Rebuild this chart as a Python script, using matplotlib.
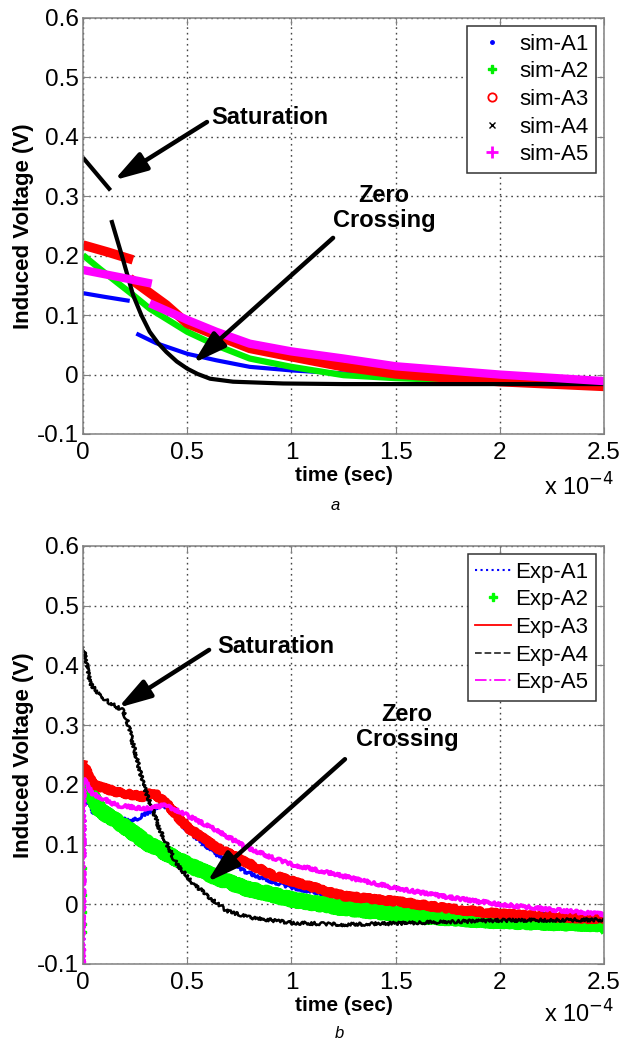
import matplotlib
matplotlib.use("Agg")
import matplotlib.pyplot as plt
from matplotlib.lines import Line2D

plt.rcParams['font.family'] = ['Liberation Sans', 'DejaVu Sans']

# time values are in units of 1e-4 s
xticks = [0, 0.5, 1, 1.5, 2, 2.5]
xtick_labels = ['0', '0.5', '1', '1.5', '2', '2.5']
yticks = [-0.1, 0, 0.1, 0.2, 0.3, 0.4, 0.5, 0.6]
ytick_labels = ['-0.1', '0', '0.1', '0.2', '0.3', '0.4', '0.5', '0.6']

# ---- (a) simulation ----
sim_a1_t1 = [0, 0.1, 0.224]
sim_a1_v1 = [0.137, 0.131, 0.124]
sim_a1_t2 = [0.256, 0.35, 0.5, 0.64, 0.8, 1.0, 1.25, 1.5, 2.0, 2.5]
sim_a1_v2 = [0.069, 0.053, 0.035, 0.024, 0.013, 0.007, 0.002, -0.001, -0.005, -0.009]

sim_a2_t = [0, 0.08, 0.16, 0.24, 0.32, 0.5, 0.64, 0.8, 1.0, 1.25, 1.5, 2.0, 2.5]
sim_a2_v = [0.201, 0.178, 0.156, 0.134, 0.111, 0.072, 0.049, 0.027, 0.013, -0.001, -0.006, -0.012, -0.016]

sim_a3_t1 = [0, 0.12, 0.24]
sim_a3_v1 = [0.218, 0.206, 0.193]
sim_a3_t2 = [0.224, 0.4, 0.5, 0.64, 0.8, 1.0, 1.25, 1.5, 2.0, 2.5]
sim_a3_v2 = [0.162, 0.117, 0.086, 0.066, 0.044, 0.030, 0.013, 0.001, -0.012, -0.020]

sim_a4_t1 = [0, 0.132]
sim_a4_v1 = [0.365, 0.31]
sim_a4_t2 = [0.136, 0.19, 0.24, 0.28, 0.32, 0.36, 0.4, 0.45, 0.5, 0.55, 0.61, 0.72, 0.96, 1.25, 1.5, 2.0, 2.5]
sim_a4_v2 = [0.26, 0.196, 0.134, 0.1, 0.072, 0.053, 0.038, 0.022, 0.010, 0.001, -0.007, -0.012, -0.015, -0.016, -0.016, -0.016, -0.016]

sim_a5_t1 = [0, 0.16, 0.33]
sim_a5_v1 = [0.176, 0.165, 0.153]
sim_a5_t2 = [0.32, 0.5, 0.64, 0.8, 1.0, 1.25, 1.5, 2.0, 2.5]
sim_a5_v2 = [0.12, 0.092, 0.072, 0.052, 0.039, 0.027, 0.014, 0.0, -0.011]

# ---- (b) experiment ----
exp_a1_t = [0, 0.003, 0.048, 0.096, 0.24, 0.32, 0.384, 0.448, 0.5, 0.64, 0.77, 0.9, 1.0, 1.25, 1.5, 2.0, 2.5]
exp_a1_v = [-0.1, 0.18, 0.155, 0.146, 0.14, 0.155, 0.168, 0.146, 0.124, 0.084, 0.056, 0.039, 0.028, 0.011, -0.004, -0.015, -0.02]

exp_a2_t = [0.003, 0.08, 0.16, 0.32, 0.5, 0.64, 0.77, 0.9, 1.0, 1.25, 1.5, 1.75, 2.0, 2.25, 2.5]
exp_a2_v = [0.205, 0.157, 0.14, 0.10, 0.067, 0.045, 0.028, 0.017, 0.008, -0.006, -0.016, -0.023, -0.028, -0.031, -0.033]
exp_a2_start_v = [0.06, 0.016, -0.013, -0.033, -0.047]

exp_a3_t = [0, 0.048, 0.16, 0.29, 0.336, 0.416, 0.5, 0.64, 0.77, 0.9, 1.0, 1.25, 1.5, 1.75, 2.0, 2.25, 2.5]
exp_a3_v = [0.235, 0.20, 0.188, 0.18, 0.188, 0.163, 0.129, 0.095, 0.073, 0.05, 0.039, 0.014, 0.005, -0.007, -0.016, -0.021, -0.025]

exp_a4_t = [0, 0.01, 0.034, 0.08, 0.13, 0.19, 0.21, 0.29, 0.37, 0.45, 0.53, 0.61, 0.69, 0.8, 1.0, 1.25, 1.5, 2.0, 2.5]
exp_a4_v = [0.43, 0.415, 0.37, 0.35, 0.337, 0.325, 0.31, 0.2, 0.124, 0.067, 0.034, 0.011, -0.011, -0.022, -0.031, -0.034, -0.032, -0.027, -0.026]

exp_a5_t = [0, 0.003, 0.048, 0.16, 0.29, 0.4, 0.5, 0.64, 0.77, 0.9, 1.0, 1.25, 1.5, 1.75, 2.0, 2.25, 2.5]
exp_a5_v = [-0.1, 0.21, 0.185, 0.166, 0.16, 0.166, 0.149, 0.124, 0.098, 0.079, 0.067, 0.047, 0.027, 0.012, 0.0, -0.009, -0.017]

sim_labels = ['sim-A1', 'sim-A2', 'sim-A3', 'sim-A4', 'sim-A5']
exp_labels = ['Exp-A1', 'Exp-A2', 'Exp-A3', 'Exp-A4', 'Exp-A5']
colors = ['#0000ff', '#00ee00', '#ff0000', '#000000', '#ff00ff']


def style_axes(ax):
    ax.set_xlim(0, 2.5)
    ax.set_ylim(-0.1, 0.6)
    ax.set_xticks(xticks)
    ax.set_xticklabels(xtick_labels)
    ax.set_yticks(yticks)
    ax.set_yticklabels(ytick_labels)
    ax.tick_params(direction='in', length=5, color='#808080', labelsize=17.5,
                   top=True, right=True)
    ax.tick_params(axis='x', pad=6)
    ax.tick_params(axis='y', pad=3)
    ax.grid(True, color='#444444', linestyle=(0, (1.2, 2.8)), linewidth=1.0)
    ax.set_axisbelow(True)
    for s in ax.spines.values():
        s.set_color('#808080')
        s.set_linewidth(1.1)
    ax.set_xlabel('time (sec)', fontsize=15, fontweight='bold', labelpad=1)
    ax.set_ylabel('Induced Voltage (V)', fontsize=16, fontweight='bold', labelpad=2)


def arrow(ax, tip, tail):
    ax.annotate('', xy=tip, xytext=tail,
                arrowprops=dict(arrowstyle='-|>,head_length=1.0,head_width=0.3',
                                mutation_scale=20, lw=3.2, color='black',
                                shrinkA=0, shrinkB=0))


def sim_line(ax, t, v, c, w):
    ax.plot(t, v, color=c, lw=w, solid_capstyle='butt', solid_joinstyle='round')


fig = plt.figure(figsize=(6.32, 10.43), dpi=100)
ax1 = fig.add_axes([83 / 632, 609 / 1043, 521 / 632, 416 / 1043])
ax2 = fig.add_axes([83 / 632, 79 / 1043, 521 / 632, 418 / 1043])

# (a)
sim_line(ax1, sim_a1_t1, sim_a1_v1, colors[0], 3.0)
sim_line(ax1, sim_a1_t2, sim_a1_v2, colors[0], 3.0)
sim_line(ax1, sim_a2_t, sim_a2_v, colors[1], 4.5)
sim_line(ax1, sim_a3_t1, sim_a3_v1, colors[2], 6.8)
sim_line(ax1, sim_a3_t2, sim_a3_v2, colors[2], 6.8)
sim_line(ax1, sim_a4_t1, sim_a4_v1, colors[3], 3.0)
sim_line(ax1, sim_a4_t2, sim_a4_v2, colors[3], 3.0)
sim_line(ax1, sim_a5_t1, sim_a5_v1, colors[4], 6.0)
sim_line(ax1, sim_a5_t2, sim_a5_v2, colors[4], 6.0)
style_axes(ax1)

sim_handles = [
    Line2D([], [], color=colors[0], marker='.', ls='none', ms=5),
    Line2D([], [], color=colors[1], marker='P', ls='none', ms=6),
    Line2D([], [], color=colors[2], marker='o', ls='none', ms=6, mfc='none', mew=1.3),
    Line2D([], [], color=colors[3], marker='x', ls='none', ms=4),
    Line2D([], [], color=colors[4], marker='+', ls='none', ms=8, mew=2),
]
leg1 = ax1.legend(sim_handles, sim_labels, loc='upper right', fontsize=16,
                  handlelength=1.6, handletextpad=0.4, labelspacing=0.3,
                  borderpad=0.35, borderaxespad=0.35, fancybox=False,
                  edgecolor='#333333', framealpha=1)
leg1.get_frame().set_linewidth(1.1)

arrow(ax1, (0.149, 0.327), (0.595, 0.425))
ax1.text(0.614, 0.432, 'Saturation', fontsize=17, fontweight='bold', ha='left', va='center')
arrow(ax1, (0.528, 0.019), (1.2, 0.23))
ax1.text(1.445, 0.28, 'Zero\nCrossing', fontsize=17, fontweight='bold', ha='center',
         va='center', linespacing=1.1)

# (b)
l1, = ax2.plot(exp_a1_t, exp_a1_v, color=colors[0], lw=2.2)
l2, = ax2.plot(exp_a2_t, exp_a2_v, color='#00ff00', lw=10)
ax2.plot([0] * len(exp_a2_start_v), exp_a2_start_v, color='#00ff00', marker='P',
         ls='none', ms=5)
l3, = ax2.plot(exp_a3_t, exp_a3_v, color=colors[2], lw=6.0)
l4, = ax2.plot(exp_a4_t, exp_a4_v, color=colors[3], lw=1.8)
l5, = ax2.plot(exp_a5_t, exp_a5_v, color=colors[4], lw=2.6)
for ln in (l1, l2, l3, l4, l5):
    ln.set_sketch_params(1.6, 3, 4)
style_axes(ax2)

exp_handles = [
    Line2D([], [], color=colors[0], ls=':', lw=1.5),
    Line2D([], [], color='#00ff00', marker='P', ls='none', ms=6),
    Line2D([], [], color=colors[2], ls='-', lw=1.3),
    Line2D([], [], color='#333333', ls='--', lw=1.3),
    Line2D([], [], color=colors[4], ls='-.', lw=1.3),
]
leg2 = ax2.legend(exp_handles, exp_labels, loc='upper right', fontsize=16,
                  handlelength=1.6, handletextpad=0.2, labelspacing=0.3,
                  borderpad=0.35, borderaxespad=0.35, fancybox=False,
                  edgecolor='#333333', framealpha=1)
leg2.get_frame().set_linewidth(1.1)

arrow(ax2, (0.168, 0.329), (0.605, 0.426))
ax2.text(0.643, 0.432, 'Saturation', fontsize=17, fontweight='bold', ha='left', va='center')
arrow(ax2, (0.595, 0.037), (1.257, 0.243))
ax2.text(1.555, 0.297, 'Zero\nCrossing', fontsize=17, fontweight='bold', ha='center',
         va='center', linespacing=1.1)

# exponent labels and captions
fig.text(544 / 632, 1 - 487 / 1043, r'x 10$^{-4}$', fontsize=17, ha='left', va='center')
fig.text(544 / 632, 1 - 1014 / 1043, r'x 10$^{-4}$', fontsize=17, ha='left', va='center')
fig.text(335 / 632, 1 - 506 / 1043, 'a', fontsize=12, style='italic', ha='center', va='center')
fig.text(339 / 632, 1 - 1033 / 1043, 'b', fontsize=12, style='italic', ha='center', va='center')

fig.savefig('out.png', dpi=100)
